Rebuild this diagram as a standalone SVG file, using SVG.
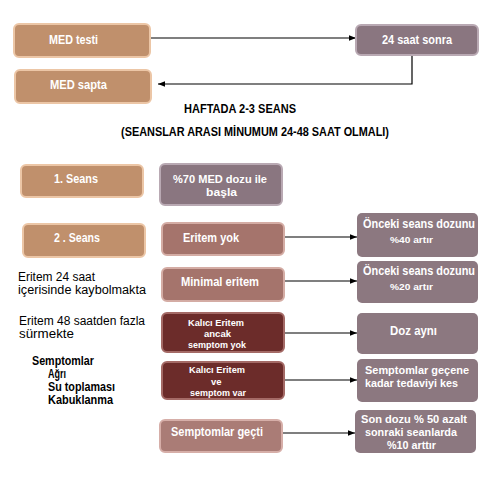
<svg xmlns="http://www.w3.org/2000/svg" width="500" height="487" viewBox="0 0 500 487">
<defs>
<marker id="ah" viewBox="0 0 10 10" refX="10" refY="5" markerWidth="7" markerHeight="7" markerUnits="userSpaceOnUse" orient="auto"><path d="M0,1 L10,5 L0,9 z" fill="#000"/></marker>
<style>
.tan{fill:#c0906c;stroke:#ecc6a6;stroke-width:2}
.pg{fill:#8a7680;stroke:#b9a9b3;stroke-width:2}
.pr{fill:#8c7880}
.ro{fill:#a5746c;stroke:#d4aca4;stroke-width:2}
.mr{fill:#6c2c2a;stroke:#a46a66;stroke-width:2}
.lr{fill:#aa7c76;stroke:#d6aea8;stroke-width:2}
text{font-family:"Liberation Sans",Arial,sans-serif}
.t{font-weight:bold;fill:#fff;font-size:12px}
.m{font-size:10.5px}
.s{font-size:9.5px}
.k{fill:#000;font-size:12px}
.b{font-weight:bold}
.c{fill:none;stroke:#000;stroke-width:1.2}
</style>
</defs>
<g id="connectors">
<line class="c" x1="150" y1="38" x2="356" y2="38" marker-end="url(#ah)"/>
<polyline class="c" points="412,56 412,84 158,84" marker-end="url(#ah)"/>
<line class="c" x1="284" y1="237" x2="357" y2="237" marker-end="url(#ah)"/>
<line class="c" x1="284" y1="281" x2="357" y2="281" marker-end="url(#ah)"/>
<line class="c" x1="284" y1="333" x2="357" y2="333" marker-end="url(#ah)"/>
<line class="c" x1="284" y1="380" x2="357" y2="380" marker-end="url(#ah)"/>
<line class="c" x1="282" y1="433" x2="355" y2="433" marker-end="url(#ah)"/>
</g>
<g id="med-testi"><rect class="tan" x="14" y="24" width="136" height="33" rx="5"/><text class="t" x="49" y="44" textLength="49" lengthAdjust="spacingAndGlyphs">MED testi</text></g>
<g id="med-sapta"><rect class="tan" x="15" y="70" width="136" height="33" rx="5"/><text class="t" x="50" y="89" textLength="57" lengthAdjust="spacingAndGlyphs">MED  sapta</text></g>
<g id="saat-sonra"><rect class="pg" x="356" y="25" width="122" height="30" rx="5"/><text class="t" x="382" y="44" textLength="70" lengthAdjust="spacingAndGlyphs">24 saat  sonra</text></g>
<g id="haftada"><text class="k b" x="184" y="113" font-size="11" textLength="112" lengthAdjust="spacingAndGlyphs">HAFTADA 2-3 SEANS</text></g>
<g id="seanslar-arasi"><text class="k b" x="121" y="136" font-size="11" textLength="268" lengthAdjust="spacingAndGlyphs">(SEANSLAR ARASI MİNUMUM 24-48 SAAT OLMALI)</text></g>
<g id="seans1"><rect class="tan" x="21" y="165" width="122" height="32" rx="5"/><text class="t" x="54" y="183" textLength="44" lengthAdjust="spacingAndGlyphs">1. Seans</text></g>
<g id="med70"><rect class="pg" x="160" y="164" width="122" height="41" rx="5"/><text class="t m" x="173" y="183" textLength="94" lengthAdjust="spacingAndGlyphs">%70 MED dozu ile</text><text class="t m" x="206" y="196" textLength="31" lengthAdjust="spacingAndGlyphs">başla</text></g>
<g id="seans2"><rect class="tan" x="23" y="224" width="122" height="33" rx="5"/><text class="t" x="54" y="242" textLength="46" lengthAdjust="spacingAndGlyphs">2 . Seans</text></g>
<g id="eritem-yok"><rect class="ro" x="162" y="223" width="122" height="32" rx="5"/><text class="t" x="183" y="242" textLength="56" lengthAdjust="spacingAndGlyphs">Eritem yok</text></g>
<g id="onceki40"><rect class="pr" x="357" y="213" width="121" height="44" rx="5"/><text class="t" x="363" y="228" textLength="112" lengthAdjust="spacingAndGlyphs">Önceki seans dozunu</text><text class="t s" x="390" y="243" textLength="43" lengthAdjust="spacingAndGlyphs">%40 artır</text></g>
<g id="minimal"><rect class="ro" x="162" y="268" width="122" height="33" rx="5"/><text class="t" x="181" y="286" textLength="78" lengthAdjust="spacingAndGlyphs">Minimal eritem</text></g>
<g id="onceki20"><rect class="pr" x="357" y="261" width="121" height="42" rx="5"/><text class="t" x="363" y="275" textLength="112" lengthAdjust="spacingAndGlyphs">Önceki seans dozunu</text><text class="t s" x="390" y="290" textLength="43" lengthAdjust="spacingAndGlyphs">%20 artır</text></g>
<g id="eritem24"><text class="k" x="18" y="281" textLength="77" lengthAdjust="spacingAndGlyphs">Eritem 24 saat</text><text class="k" x="18" y="294" textLength="128" lengthAdjust="spacingAndGlyphs">içerisinde kaybolmakta</text></g>
<g id="kalici1"><rect class="mr" x="162" y="313" width="122" height="39" rx="5"/><text class="t s" x="188" y="326" textLength="56" lengthAdjust="spacingAndGlyphs">Kalıcı Eritem</text><text class="t s" x="204" y="337" textLength="27" lengthAdjust="spacingAndGlyphs">ancak</text><text class="t s" x="188" y="348" textLength="58" lengthAdjust="spacingAndGlyphs">semptom yok</text></g>
<g id="doz-ayni"><rect class="pr" x="357" y="313" width="121" height="41" rx="5"/><text class="t" x="390" y="335" textLength="47" lengthAdjust="spacingAndGlyphs">Doz aynı</text></g>
<g id="eritem48"><text class="k" x="19" y="325" textLength="126" lengthAdjust="spacingAndGlyphs">Eritem 48 saatden fazla</text><text class="k" x="19" y="338" textLength="55" lengthAdjust="spacingAndGlyphs">sürmekte</text></g>
<g id="kalici2"><rect class="mr" x="162" y="362" width="122" height="37" rx="5"/><text class="t s" x="189" y="373" textLength="56" lengthAdjust="spacingAndGlyphs">Kalıcı Eritem</text><text class="t s" x="211" y="385">ve</text><text class="t s" x="190" y="396" textLength="56" lengthAdjust="spacingAndGlyphs">semptom var</text></g>
<g id="semptom-kes"><rect class="pr" x="357" y="359" width="121" height="43" rx="5"/><text class="t m" x="365" y="374" textLength="104" lengthAdjust="spacingAndGlyphs">Semptomlar geçene</text><text class="t m" x="365" y="387" textLength="93" lengthAdjust="spacingAndGlyphs">kadar tedaviyi kes</text></g>
<g id="semptomlar"><text class="k b m" x="32" y="365" textLength="62" lengthAdjust="spacingAndGlyphs">Semptomlar</text><text class="k b m" x="48" y="378" textLength="18" lengthAdjust="spacingAndGlyphs">Ağrı</text><text class="k b m" x="48" y="391" textLength="67" lengthAdjust="spacingAndGlyphs">Su toplaması</text><text class="k b m" x="48" y="404" textLength="65" lengthAdjust="spacingAndGlyphs">Kabuklanma</text></g>
<g id="semptom-gecti"><rect class="lr" x="160" y="420" width="122" height="32" rx="5"/><text class="t" x="171" y="436" textLength="92" lengthAdjust="spacingAndGlyphs">Semptomlar geçti</text></g>
<g id="son-dozu"><rect class="pr" x="355" y="410" width="121" height="43" rx="5"/><text class="t m" x="361" y="423" textLength="106" lengthAdjust="spacingAndGlyphs">Son dozu % 50 azalt</text><text class="t m" x="365" y="436" textLength="92" lengthAdjust="spacingAndGlyphs">sonraki seanlarda</text><text class="t m" x="387" y="449" textLength="49" lengthAdjust="spacingAndGlyphs">%10 arttır</text></g>
</svg>
